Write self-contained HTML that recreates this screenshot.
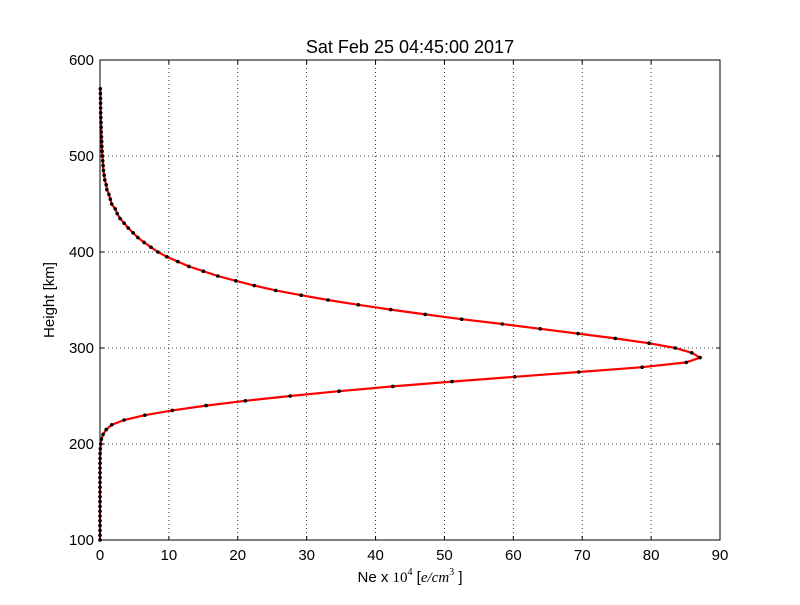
<!DOCTYPE html>
<html><head><meta charset="utf-8"><style>body{margin:0;background:#fff}svg{font-family:"Liberation Sans",sans-serif}</style></head>
<body>
<svg id="c" width="800" height="600"></svg>
<script>
const heights=[100,105,110,115,120,125,130,135,140,145,150,155,160,165,170,175,180,185,190,195,200,205,210,215,220,225,230,235,240,245,250,255,260,265,270,275,280,285,290,295,300,305,310,315,320,325,330,335,340,345,350,355,360,365,370,375,380,385,390,395,400,405,410,415,420,425,430,435,440,445,450,455,460,465,470,475,480,485,490,495,500,505,510,515,520,525,530,535,540,545,550,555,560,565,570];
const neValues=[0,0,0,0,0,0,0,0,0,0,0,0,0,0,0,0,0.01,0.01,0.02,0.05,0.1,0.2,0.45,0.9,1.7,3.5,6.5,10.5,15.4,21.1,27.6,34.7,42.5,51.1,60.2,69.5,78.7,85.1,87.1,85.9,83.5,79.7,74.8,69.4,63.9,58.4,52.5,47.2,42.2,37.5,33.1,29.2,25.5,22.4,19.7,17.1,15.0,12.9,11.3,9.7,8.4,7.4,6.4,5.5,4.8,4.1,3.5,2.9,2.5,2.2,1.7,1.5,1.3,1.0,0.9,0.7,0.6,0.5,0.45,0.4,0.35,0.3,0.27,0.24,0.21,0.18,0.16,0.14,0.12,0.1,0.09,0.08,0.07,0.06,0.05];
const xTicks=[0,10,20,30,40,50,60,70,80,90];
const yTicks=[100,200,300,400,500,600];
const L=100,R=720,T=60,B=540;
const xs=v=>L+(v-0)/(90-0)*(R-L);
const ys=v=>B-(v-100)/(600-100)*(B-T);
const svg=document.getElementById('c');const NS='http://www.w3.org/2000/svg';
function mk(t,a,p){const e=document.createElementNS(NS,t);for(const k in a)e.setAttribute(k,a[k]);(p||svg).appendChild(e);return e;}
let e;
xTicks.forEach(v=>{
 e=mk('line',{x1:xs(v),x2:xs(v),y1:T,y2:B,stroke:'#000','stroke-dasharray':'1,3','stroke-width':0.8});
 
 
 mk('line',{x1:xs(v),x2:xs(v),y1:B,y2:B-4,stroke:'#000'});
 mk('line',{x1:xs(v),x2:xs(v),y1:T,y2:T+4,stroke:'#000'});
 e=mk('text',{x:xs(v),y:B+20,'text-anchor':'middle','font-size':15});e.textContent=v;
 
 
});
yTicks.forEach(v=>{
 e=mk('line',{x1:L,x2:R,y1:ys(v),y2:ys(v),stroke:'#000','stroke-dasharray':'1,3','stroke-width':0.8});
 
 
 mk('line',{x1:L,x2:L+4,y1:ys(v),y2:ys(v),stroke:'#000'});
 mk('line',{x1:R,x2:R-4,y1:ys(v),y2:ys(v),stroke:'#000'});
 e=mk('text',{x:L-6,y:ys(v)+5,'text-anchor':'end','font-size':15});e.textContent=v;
 
 
});
let d='';heights.forEach((h,i)=>{d+=(i?'L':'M')+xs(neValues[i])+','+ys(h);});
e=mk('path',{d:d,fill:'none',stroke:'#ff0000','stroke-width':2.2});


heights.forEach((h,i)=>{
 e=mk('circle',{cx:xs(neValues[i]),cy:ys(h),r:1.8,fill:'#000'});
 
 
});
e=mk('rect',{x:L,y:T,width:R-L,height:B-T,fill:'none',stroke:'#000'});


e=mk('text',{x:410,y:53,'text-anchor':'middle','font-size':18});e.textContent='Sat Feb 25 04:45:00 2017';


e=mk('text',{x:410,y:582,'text-anchor':'middle','font-size':15});
e.innerHTML='Ne x <tspan font-family="Liberation Serif">10</tspan><tspan font-size="10" dy="-7" font-family="Liberation Serif">4</tspan><tspan dy="7">  [</tspan><tspan font-family="Liberation Serif" font-style="italic">e/cm</tspan><tspan font-size="10" dy="-7" font-family="Liberation Serif">3</tspan><tspan dy="7"> ]</tspan>';


e=mk('text',{x:54,y:300,'text-anchor':'middle','font-size':15,transform:'rotate(-90 54 300)'});e.textContent='Height [km]';


</script>
</body></html>
